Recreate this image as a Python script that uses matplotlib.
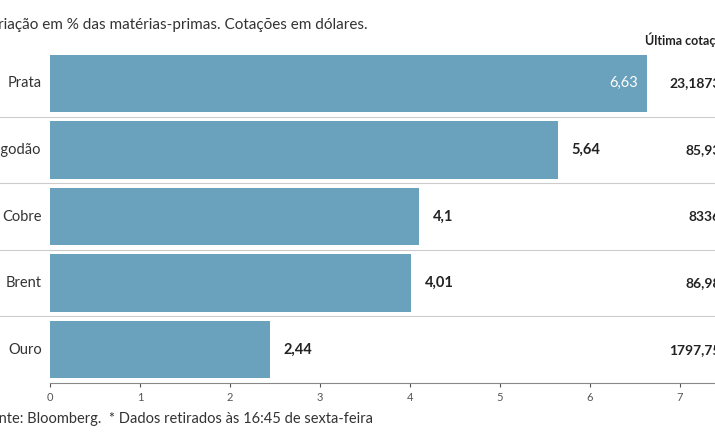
import matplotlib
matplotlib.use("Agg")
import matplotlib.pyplot as plt

categories = ["Prata", "Algodão", "Cobre", "Brent", "Ouro"]
values = [6.63, 5.64, 4.1, 4.01, 2.44]
value_labels = ["6,63", "5,64", "4,1", "4,01", "2,44"]
last_quote = ["23,1873", "85,93", "8336", "86,98", "1797,75"]
ticks = [0, 1, 2, 3, 4, 5, 6, 7]

W, H = 715, 445
fig = plt.figure(figsize=(W/100, H/100), dpi=100)
plt.rcParams["font.family"] = "Lato"
x0, x1 = 50, 715
y_top, y_bot = 50, 383
ax = fig.add_axes([x0/W, 1-y_bot/H, (x1-x0)/W, (y_bot-y_top)/H])
ax.set_xlim(0, (x1-x0)/90)
ax.set_ylim(len(categories)-0.5, -0.5)
ypos = list(range(len(categories)))
ax.barh(ypos, values, height=0.86, color="#6aa2bd")
for i, (v, lab) in enumerate(zip(values, value_labels)):
    if i == 0:
        ax.text(v-0.1, i, lab, ha="right", va="center", color="white", fontsize=10.5)
    else:
        ax.text(v+0.15, i, lab, ha="left", va="center", color="#222", fontsize=10.5, fontweight="bold")
    ax.text(7.45, i, last_quote[i], ha="right", va="center", fontsize=10, fontweight="bold", color="#222", clip_on=False)
    ax.text(-0.09, i, categories[i], ha="right", va="center", fontsize=10.5, color="#333", clip_on=False)
for b in [0.5, 1.5, 2.5, 3.5]:
    ax.axhline(b, color="#cccccc", lw=0.8, xmin=-0.2, clip_on=False)
for s in ["top", "right", "left"]:
    ax.spines[s].set_visible(False)
ax.spines["bottom"].set_color("#888")
ax.set_yticks([])
ax.set_xticks(ticks)
ax.tick_params(axis="x", labelsize=8, colors="#555", length=3)
fig.text(-0.028, 1-25/H, "Variação em % das matérias-primas. Cotações em dólares.", fontsize=11, color="#333", va="center")
fig.text(645/W, 1-40/H, "Última cotação*", fontsize=9, fontweight="bold", color="#222", va="center")
fig.text(-0.025, 1-419/H, "Fonte: Bloomberg.  * Dados retirados às 16:45 de sexta-feira", fontsize=10.5, color="#333", va="center")
fig.savefig("out.png", dpi=100)
